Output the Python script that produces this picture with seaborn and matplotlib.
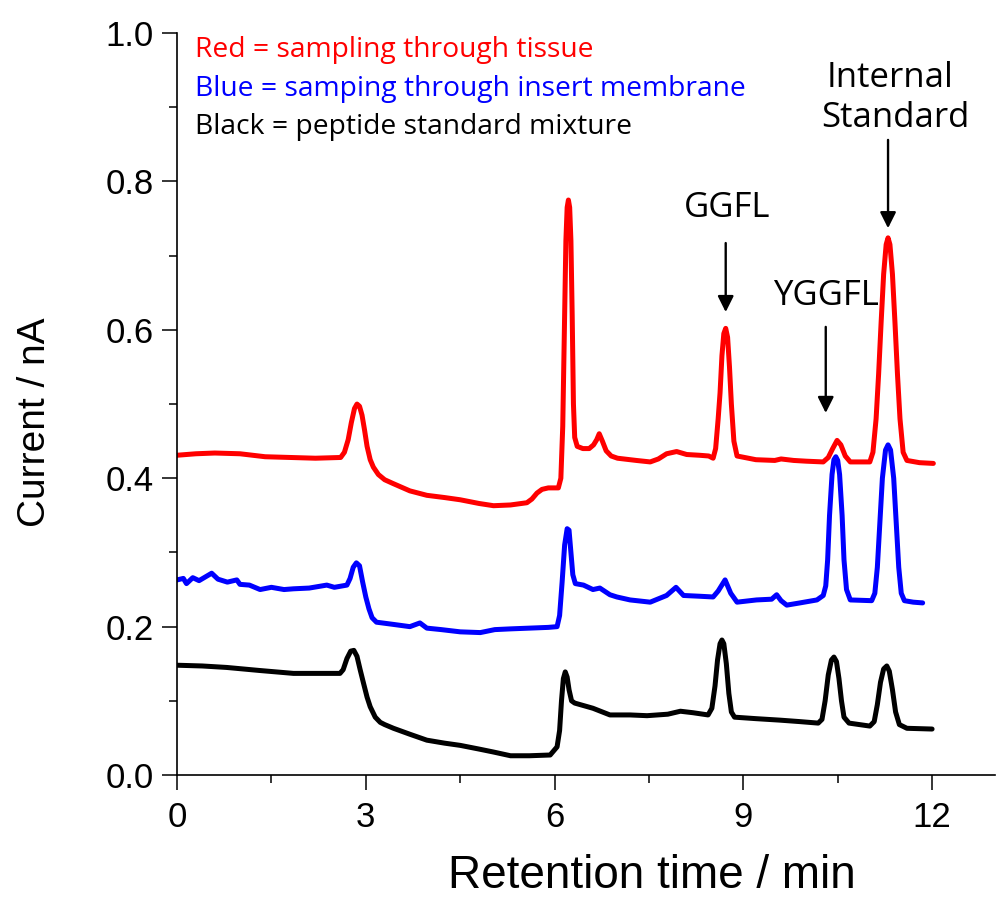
import numpy as np
import pandas as pd
import matplotlib
matplotlib.use("Agg")
import matplotlib.pyplot as plt
import seaborn as sns

# ---------------- data ----------------
red_t = [0.0, 0.3, 0.6, 1.0, 1.4, 1.8, 2.2, 2.6, 2.66, 2.72, 2.77, 2.82, 2.86, 2.9, 2.94,
         2.98, 3.02, 3.07, 3.12, 3.2, 3.3, 3.43, 3.7, 3.97, 4.25, 4.5, 4.8, 5.03, 5.3, 5.56,
         5.64, 5.72, 5.8, 5.9, 6.06, 6.1, 6.13, 6.16, 6.18, 6.2, 6.22, 6.24, 6.26, 6.28,
         6.3, 6.32, 6.36, 6.45, 6.55, 6.62, 6.67, 6.71, 6.76, 6.82, 6.9, 7.0, 7.3, 7.52, 7.65,
         7.78, 7.94, 8.1, 8.3, 8.45, 8.52, 8.56, 8.6, 8.63, 8.66, 8.69, 8.72, 8.75, 8.78,
         8.81, 8.85, 8.9, 9.2, 9.5, 9.6, 9.8, 10.0, 10.27, 10.35, 10.42, 10.49, 10.55, 10.62,
         10.7, 11.01, 11.06, 11.11, 11.15, 11.19, 11.23, 11.27, 11.3, 11.33, 11.37, 11.41,
         11.45, 11.49, 11.54, 11.6, 11.8, 12.02]
red_v = [0.431, 0.433, 0.434, 0.433, 0.429, 0.428, 0.427, 0.428, 0.435, 0.452, 0.475, 0.494,
         0.5, 0.497, 0.485, 0.465, 0.443, 0.425, 0.415, 0.405, 0.398, 0.393, 0.383, 0.377,
         0.374, 0.371, 0.366, 0.363, 0.364, 0.367, 0.372, 0.38, 0.385, 0.387, 0.387, 0.4,
         0.47, 0.62, 0.72, 0.765, 0.775, 0.765, 0.72, 0.62, 0.5, 0.455, 0.443, 0.44, 0.44,
         0.445, 0.452, 0.46, 0.45, 0.437, 0.43, 0.427, 0.424, 0.422, 0.426, 0.433, 0.436,
         0.432, 0.431, 0.43, 0.427, 0.44, 0.48, 0.515, 0.565, 0.595, 0.602, 0.59, 0.55, 0.5,
         0.45, 0.43, 0.425, 0.424, 0.426, 0.424, 0.423, 0.422, 0.428, 0.44, 0.451, 0.445,
         0.43, 0.422, 0.422, 0.435, 0.48, 0.54, 0.61, 0.675, 0.715, 0.724, 0.715, 0.675, 0.61,
         0.54, 0.48, 0.435, 0.424, 0.421, 0.42]

blue_t = [0.0, 0.1, 0.15, 0.25, 0.35, 0.55, 0.65, 0.8, 0.95, 1.0, 1.15, 1.32, 1.5, 1.7, 1.85,
          2.1, 2.38, 2.5, 2.7, 2.75, 2.8, 2.85, 2.9, 2.95, 3.0, 3.05, 3.1, 3.17, 3.44, 3.7,
          3.86, 3.97, 4.2, 4.5, 4.82, 5.05, 5.3, 5.6, 5.9, 6.04, 6.08, 6.12, 6.16, 6.2, 6.23,
          6.26, 6.29, 6.33, 6.46, 6.61, 6.72, 6.88, 6.99, 7.2, 7.52, 7.78, 7.93, 8.05, 8.3,
          8.52, 8.6, 8.71, 8.8, 8.9, 9.21, 9.45, 9.53, 9.6, 9.69, 9.9, 10.17, 10.27, 10.31,
          10.34, 10.37, 10.41, 10.44, 10.47, 10.5, 10.53, 10.57, 10.6, 10.64, 10.7, 11.04,
          11.09, 11.13, 11.17, 11.21, 11.26, 11.3, 11.34, 11.39, 11.43, 11.47, 11.51, 11.56,
          11.7, 11.85]
blue_v = [0.263, 0.265, 0.258, 0.266, 0.262, 0.272, 0.264, 0.26, 0.263, 0.257, 0.256, 0.25,
          0.253, 0.25, 0.251, 0.252, 0.256, 0.253, 0.256, 0.265, 0.28, 0.286, 0.282, 0.26,
          0.24, 0.224, 0.212, 0.206, 0.203, 0.2, 0.205, 0.198, 0.196, 0.193, 0.192, 0.196,
          0.197, 0.198, 0.199, 0.2, 0.215, 0.26, 0.31, 0.332, 0.33, 0.3, 0.27, 0.258, 0.256,
          0.25, 0.252, 0.243, 0.24, 0.236, 0.233, 0.242, 0.253, 0.242, 0.241, 0.24, 0.248,
          0.263, 0.245, 0.233, 0.236, 0.237, 0.243, 0.235, 0.229, 0.232, 0.236, 0.242, 0.255,
          0.29, 0.35, 0.405, 0.425, 0.429, 0.424, 0.405, 0.35, 0.29, 0.25, 0.236, 0.235,
          0.245, 0.28, 0.34, 0.4, 0.438, 0.445, 0.438, 0.4, 0.34, 0.28, 0.245, 0.235, 0.233,
          0.232]

black_t = [0.0, 0.4, 0.79, 1.3, 1.85, 2.3, 2.59, 2.64, 2.7, 2.76, 2.81, 2.86, 2.91, 2.96,
           3.02, 3.07, 3.15, 3.23, 3.3, 3.44, 3.7, 3.97, 4.25, 4.5, 4.8, 5.03, 5.3, 5.6, 5.93,
           6.04, 6.08, 6.11, 6.14, 6.17, 6.2, 6.23, 6.27, 6.32, 6.61, 6.88, 7.2, 7.47, 7.8,
           8.0, 8.2, 8.44, 8.5, 8.55, 8.59, 8.63, 8.66, 8.69, 8.73, 8.77, 8.81, 8.86, 9.2,
           9.58, 9.9, 10.19, 10.25, 10.3, 10.35, 10.4, 10.44, 10.48, 10.52, 10.56, 10.6,
           10.68, 11.01, 11.08, 11.13, 11.18, 11.23, 11.28, 11.32, 11.37, 11.42, 11.48, 11.6,
           12.0]
black_v = [0.148, 0.147, 0.145, 0.141, 0.137, 0.137, 0.137, 0.142, 0.157, 0.167, 0.168,
           0.16, 0.142, 0.125, 0.105, 0.092, 0.078, 0.071, 0.068, 0.063, 0.055, 0.047, 0.043,
           0.04, 0.035, 0.031, 0.026, 0.026, 0.027, 0.038, 0.06, 0.1, 0.13, 0.139, 0.132,
           0.115, 0.1, 0.097, 0.09, 0.081, 0.081, 0.08, 0.082, 0.086, 0.084, 0.081, 0.09, 0.12,
           0.155, 0.177, 0.182, 0.177, 0.15, 0.11, 0.085, 0.078, 0.076, 0.074, 0.072, 0.07,
           0.075, 0.1, 0.135, 0.155, 0.159, 0.153, 0.13, 0.1, 0.078, 0.07, 0.066, 0.072, 0.095,
           0.125, 0.143, 0.147, 0.14, 0.115, 0.085, 0.068, 0.063, 0.062]

legend_lines = ["Red = sampling through tissue",
                "Blue = samping through insert membrane",
                "Black = peptide standard mixture"]
x_ticks = [0, 3, 6, 9, 12]
y_ticks = [0.0, 0.2, 0.4, 0.6, 0.8, 1.0]

# ---------------- style ----------------
sns.set_style("ticks")
plt.rcParams["font.family"] = ["Liberation Sans", "DejaVu Sans"]
plt.rcParams.update({"text.color": "black", "axes.labelcolor": "black",
                     "xtick.color": "black", "ytick.color": "black",
                     "axes.edgecolor": "black"})
annot_font = ["Open Sans", "DejaVu Sans"]

fig = plt.figure(figsize=(9.98, 9.01), dpi=100)
ax = fig.add_axes([0.1774, 0.1398, 0.8196, 0.8235])

frames = []
for name, t, v in [("red", red_t, red_v), ("blue", blue_t, blue_v), ("black", black_t, black_v)]:
    frames.append(pd.DataFrame({"t": t, "v": v, "trace": name}))
df = pd.concat(frames, ignore_index=True)

palette = {"red": "#ff0000", "blue": "#0000ff", "black": "#000000"}
sns.lineplot(data=df, x="t", y="v", hue="trace", palette=palette, sort=False,
             estimator=None, lw=3.6, ax=ax, legend=False)
for ln in ax.lines:
    ln.set_solid_joinstyle("round")
    ln.set_solid_capstyle("round")

ax.set_xlim(0, 13.0)
ax.set_ylim(0, 1.0)
ax.set_xticks(x_ticks)
ax.set_xticks(np.arange(1.5, 13, 3), minor=True)
ax.set_yticks(y_ticks)
ax.set_yticks(np.arange(0.1, 1.0, 0.2), minor=True)
ax.set_yticklabels([f"{y:.1f}" for y in y_ticks])
for s in ["top", "right"]:
    ax.spines[s].set_visible(False)
for s in ["left", "bottom"]:
    ax.spines[s].set_linewidth(1.2)
ax.tick_params(which="major", length=11, width=1.1, direction="out")
ax.tick_params(which="minor", length=5.5, width=1.1, direction="out")
ax.tick_params(axis="y", labelsize=25, pad=6)
ax.tick_params(axis="x", labelsize=25, pad=8)

ax.set_xlabel("Retention time / min", fontsize=33)
ax.xaxis.set_label_coords(0.58, -0.107)
ax.set_ylabel("Current / nA", fontsize=28)
ax.yaxis.set_label_coords(-0.152, 0.475)

# coloured key text
ly = [0.977, 0.925, 0.873]
for txt, col, y in zip(legend_lines, ["#ff0000", "#0000ff", "#000000"], ly):
    ax.text(0.286, y, txt, color=col, family=annot_font, fontsize=20.3,
            ha="left", va="center")

arrow = dict(arrowstyle="-|>", lw=1.7, color="black", mutation_scale=24, shrinkA=0, shrinkB=0)
ax.text(8.74, 0.764, "GGFL", family=annot_font, fontsize=25, ha="center", va="center")
ax.annotate("", xy=(8.72, 0.624), xytext=(8.72, 0.717), arrowprops=arrow)
ax.text(10.31, 0.646, "YGGFL", family=annot_font, fontsize=25, ha="center", va="center")
ax.annotate("", xy=(10.31, 0.488), xytext=(10.31, 0.604), arrowprops=arrow)
ax.text(11.33, 0.939, "Internal", family=annot_font, fontsize=25, ha="center", va="center")
ax.text(11.41, 0.885, "Standard", family=annot_font, fontsize=25, ha="center", va="center")
ax.annotate("", xy=(11.3, 0.737), xytext=(11.3, 0.856), arrowprops=arrow)

fig.savefig("out.png", dpi=100)
